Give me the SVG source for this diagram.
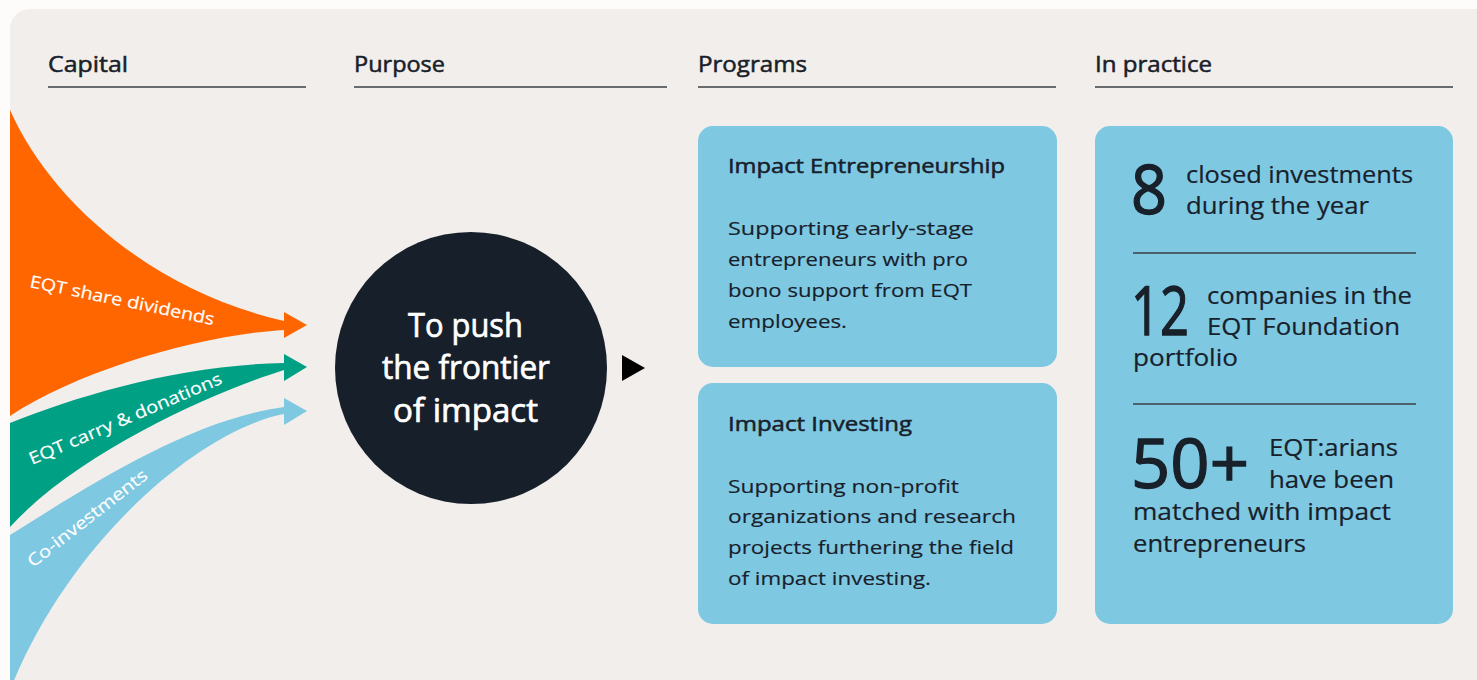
<svg xmlns="http://www.w3.org/2000/svg" width="1477" height="680" viewBox="0 0 1477 680">
<style>
text{font-family:"Open Sans","Noto Sans",sans-serif}
.hdr{font-size:21px;fill:#18202a;stroke:#18202a;stroke-width:0.5}
.rule{stroke:#3b4046;stroke-width:1.5}
.box{fill:#7ec8e2}
.ttl{font-size:20px;fill:#18202a;stroke:#18202a;stroke-width:0.5}
.body{font-size:19px;fill:#18202a;stroke:#18202a;stroke-width:0.15}
.big{font-size:68px;fill:#18202a;stroke:#18202a;stroke-width:1.4}
.stat{font-size:24px;fill:#18202a;stroke:#18202a;stroke-width:0.2}
.flowlbl{font-size:17px;fill:#ffffff;stroke:#ffffff;stroke-width:0.2}
.circ{font-size:32px;fill:#ffffff;stroke:#ffffff;stroke-width:0.7}
</style>
<rect x="0" y="0" width="1477" height="680" fill="#fdfcfb"/>
<rect x="10" y="9" width="1500" height="700" rx="20" fill="#f1eeeb"/>

<g id="headers">
<text class="hdr" x="48" y="72" textLength="80" lengthAdjust="spacingAndGlyphs">Capital</text>
<line class="rule" x1="48" y1="87" x2="306" y2="87"/>
<text class="hdr" x="354" y="72" textLength="91" lengthAdjust="spacingAndGlyphs">Purpose</text>
<line class="rule" x1="354" y1="87" x2="667" y2="87"/>
<text class="hdr" x="698" y="72" textLength="109" lengthAdjust="spacingAndGlyphs">Programs</text>
<line class="rule" x1="698" y1="87" x2="1056" y2="87"/>
<text class="hdr" x="1095" y="72" textLength="117" lengthAdjust="spacingAndGlyphs">In practice</text>
<line class="rule" x1="1095" y1="87" x2="1453" y2="87"/>
</g>

<g id="connectors">
<g id="flow-dividends">
<path d="M10,110 C50,200 150,290 284,321 L284,330 C200,335 80,370 10,416 Z" fill="#ff6600"/>
<polygon points="284,312 307,325 284,338" fill="#ff6600"/>
<text class="flowlbl" transform="translate(29,287) rotate(11.7)" textLength="188" lengthAdjust="spacingAndGlyphs">EQT share dividends</text>
</g>
<g id="flow-carry">
<path d="M10,423 C80,395 180,365 284,363 L284,370 C220,390 80,450 10,527 Z" fill="#00a085"/>
<polygon points="284,354 307,367 284,381" fill="#00a085"/>
<text class="flowlbl" transform="translate(32,465) rotate(-23.2)" textLength="208" lengthAdjust="spacingAndGlyphs">EQT carry &amp; donations</text>
</g>
<g id="flow-coinvest">
<path d="M10,535 C90,485 190,420 284,407 L284,414 C200,430 70,540 10,690 Z" fill="#7ec8e2"/>
<polygon points="284,398 307,411 284,425" fill="#7ec8e2"/>
<text class="flowlbl" transform="translate(33,568) rotate(-38)" textLength="147" lengthAdjust="spacingAndGlyphs">Co-investments</text>
</g>
<polygon id="purpose-arrow" points="622,355 645,368 622,381" fill="#000000"/>
</g>

<g id="purpose">
<circle cx="471" cy="368" r="136" fill="#17202a"/>
<text class="circ" x="408" y="337" textLength="115" lengthAdjust="spacingAndGlyphs">To push</text>
<text class="circ" x="382" y="379" textLength="168" lengthAdjust="spacingAndGlyphs">the frontier</text>
<text class="circ" x="393" y="422" textLength="145" lengthAdjust="spacingAndGlyphs">of impact</text>
</g>

<g id="impact-entrepreneurship">
<rect class="box" x="698" y="126" width="359" height="241" rx="15"/>
<text class="ttl" x="728" y="173" textLength="277" lengthAdjust="spacingAndGlyphs">Impact Entrepreneurship</text>
<text class="body" x="728" y="235" textLength="246" lengthAdjust="spacingAndGlyphs">Supporting early-stage</text>
<text class="body" x="728" y="266" textLength="240" lengthAdjust="spacingAndGlyphs">entrepreneurs with pro</text>
<text class="body" x="728" y="297" textLength="244" lengthAdjust="spacingAndGlyphs">bono support from EQT</text>
<text class="body" x="728" y="328" textLength="119" lengthAdjust="spacingAndGlyphs">employees.</text>
</g>

<g id="impact-investing">
<rect class="box" x="698" y="383" width="359" height="241" rx="15"/>
<text class="ttl" x="728" y="431" textLength="184" lengthAdjust="spacingAndGlyphs">Impact Investing</text>
<text class="body" x="728" y="493" textLength="231" lengthAdjust="spacingAndGlyphs">Supporting non-profit</text>
<text class="body" x="728" y="523" textLength="288" lengthAdjust="spacingAndGlyphs">organizations and research</text>
<text class="body" x="728" y="554" textLength="286" lengthAdjust="spacingAndGlyphs">projects furthering the field</text>
<text class="body" x="728" y="585" textLength="203" lengthAdjust="spacingAndGlyphs">of impact investing.</text>
</g>

<g id="in-practice">
<rect class="box" x="1095" y="126" width="358" height="498" rx="15"/>
<text class="big" x="1131" y="214" textLength="36" lengthAdjust="spacingAndGlyphs">8</text>
<text class="stat" x="1186" y="183" textLength="227" lengthAdjust="spacingAndGlyphs">closed investments</text>
<text class="stat" x="1186" y="214" textLength="183" lengthAdjust="spacingAndGlyphs">during the year</text>
<line class="rule" x1="1133" y1="253" x2="1416" y2="253"/>
<text class="big" x="1131" y="335" textLength="58" lengthAdjust="spacingAndGlyphs">12</text>
<text class="stat" x="1207" y="304" textLength="205" lengthAdjust="spacingAndGlyphs">companies in the</text>
<text class="stat" x="1207" y="335" textLength="193" lengthAdjust="spacingAndGlyphs">EQT Foundation</text>
<text class="stat" x="1133" y="366" textLength="105" lengthAdjust="spacingAndGlyphs">portfolio</text>
<line class="rule" x1="1133" y1="404" x2="1416" y2="404"/>
<text class="big" x="1131" y="488" textLength="118" lengthAdjust="spacingAndGlyphs">50+</text>
<text class="stat" x="1269" y="456" textLength="129" lengthAdjust="spacingAndGlyphs">EQT:arians</text>
<text class="stat" x="1269" y="488" textLength="125" lengthAdjust="spacingAndGlyphs">have been</text>
<text class="stat" x="1133" y="520" textLength="258" lengthAdjust="spacingAndGlyphs">matched with impact</text>
<text class="stat" x="1133" y="552" textLength="173" lengthAdjust="spacingAndGlyphs">entrepreneurs</text>
</g>
</svg>
